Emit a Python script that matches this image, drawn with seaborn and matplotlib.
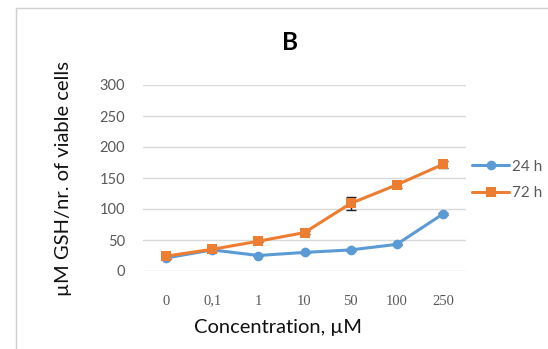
import matplotlib
matplotlib.use("Agg")
import matplotlib.pyplot as plt
from matplotlib.patches import Rectangle
import seaborn as sns
import pandas as pd
import numpy as np

# Concentrations (µM) and measured GSH per viable cell count
concentrations = ["0", "0,1", "1", "10", "50", "100", "250"]
gsh_24h = [21, 34, 25, 30, 34, 43, 92]
gsh_72h = [24, 35, 48, 62, 109, 139, 172]
err_24h = [1, 1, 1, 1, 1, 1, 2]
err_72h = [2, 2, 2, 2, 11, 5, 6]
series_labels = ["24 h", "72 h"]
y_ticks = [0, 50, 100, 150, 200, 250, 300]

blue = "#5B9BD5"
orange = "#ED7D31"
grey_text = "#595959"

pos = np.arange(len(concentrations))
df = pd.DataFrame({
    "pos": np.concatenate([pos, pos]),
    "gsh": gsh_24h + gsh_72h,
    "time": [series_labels[0]] * len(pos) + [series_labels[1]] * len(pos),
})

sns.set_theme(style="white")
plt.rcParams["font.family"] = ["Lato", "DejaVu Sans"]

W, H = 548, 349
fig = plt.figure(figsize=(W / 100, H / 100), dpi=100)
ax = fig.add_axes([143 / W, 1 - 271 / H, 323 / W, 186 / H])

# outer chart frame
fig.patches.append(Rectangle((16 / W, -0.1), 1.2, 1 - 8 / H + 0.1,
                             transform=fig.transFigure, fill=False,
                             edgecolor="#d0d0d0", linewidth=1.0))

for y in y_ticks:
    ax.axhline(y, color="#d9d9d9", linewidth=1.0, zorder=0)

# error bars sit underneath the markers
ax.errorbar(pos, gsh_72h, yerr=err_72h, fmt="none", ecolor="#222222",
            elinewidth=1.0, capsize=3.5, capthick=1.0, zorder=2)
ax.errorbar(pos, gsh_24h, yerr=err_24h, fmt="none", ecolor="#222222",
            elinewidth=1.0, capsize=3.5, capthick=1.0, zorder=2)

sns.lineplot(data=df, x="pos", y="gsh", hue="time", style="time",
             palette=[blue, orange], markers=["o", "s"], dashes=False,
             markersize=7, linewidth=2.2, markeredgewidth=0, ax=ax,
             legend=True, zorder=3)

ax.set_xlim(-0.5, len(concentrations) - 0.5)
ax.set_ylim(0, 300)
ax.set_yticks(y_ticks)
ax.set_yticklabels([str(v) for v in y_ticks], fontsize=10.5, color=grey_text)
ax.set_xticks(pos)
ax.set_xticklabels(concentrations, fontsize=10.5, color=grey_text,
                   family="Liberation Serif")
ax.tick_params(axis="y", length=0, pad=13)
ax.tick_params(axis="x", length=0, pad=17)
for s in ax.spines.values():
    s.set_visible(False)
ax.set_facecolor("none")
ax.set_xlabel("")

fig.text(278 / W, 1 - 328 / H, "Concentration, µM", fontsize=14.5,
         color="#111111", ha="center", va="center")
ax.set_ylabel("µM GSH/nr. of viable cells", fontsize=14.5, color="#111111",
              labelpad=20)
fig.text(290 / W, 1 - 42 / H, "B", fontsize=17.5, fontweight="bold",
         ha="center", va="center", color="#000000")

handles, labels = ax.get_legend_handles_labels()
ax.get_legend().remove()
leg = fig.legend(handles, labels, loc="center left",
                 bbox_to_anchor=(472 / W, 1 - 180 / H), frameon=False,
                 fontsize=11, handlelength=2.45, handletextpad=0.2,
                 labelspacing=0.85, borderpad=0, borderaxespad=0)
for t in leg.get_texts():
    t.set_color(grey_text)

fig.savefig("out.png", dpi=100)
